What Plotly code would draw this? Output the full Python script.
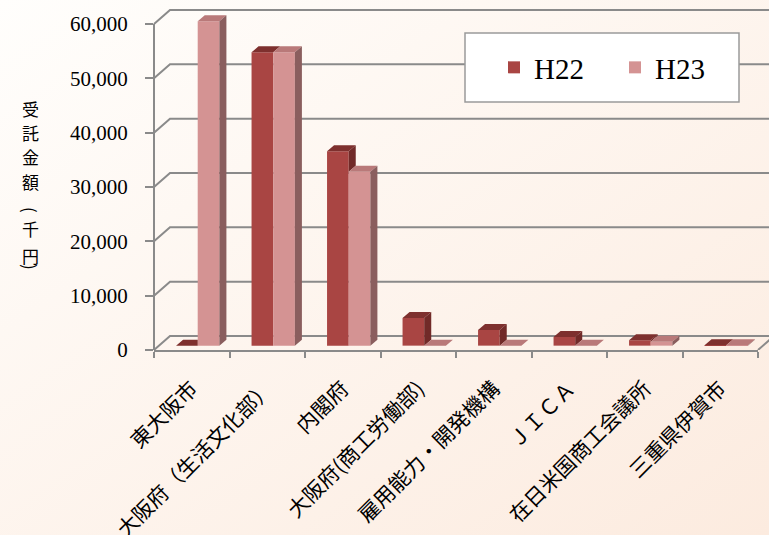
import base64
import plotly.graph_objects as go

# ---------------- data ----------------
categories = ["東大阪市", "大阪府（生活文化部）", "内閣府", "大阪府(商工労働部)",
              "雇用能力・開発機構", "ＪＩＣＡ", "在日米国商工会議所", "三重県伊賀市"]
h22 = [0, 54000, 35800, 5100, 2900, 1600, 1000, 80]
h23 = [59700, 54000, 32000, 0, 0, 0, 700, 80]
y_ticks = [0, 10000, 20000, 30000, 40000, 50000, 60000]
y_title_chars = ["受", "託", "金", "額", "(", "千", "円", ")"]

# ---------------- style / geometry ----------------
W, H = 769, 535
ML, MR, MT, MB = 154, 11, 5, 185
PW, PH = W - ML - MR, H - MT - MB
YMAX = 63500

BAR_W = 0.287        # category units
SHIFT_X = 0.079      # bar plane shift right (category units)
LIFT = 800           # bar plane lift (value units)
DX = 0.093           # bar depth in x (category units)
DY = 1100            # bar depth in y (value units)
WALL_DX, WALL_DY = 16, 14   # pixel offset of back wall

C22, C22_TOP, C22_SIDE = "#A94543", "#7E302E", "#712A28"
C23, C23_TOP, C23_SIDE = "#D49393", "#B97979", "#8A5E5E"
GRID = "#8A8A8A"

SERIF = "Liberation Serif, Noto Sans CJK JP"
CJK = "Noto Sans CJK JP"

# y pixel centres / rotation of the stacked title characters
TITLE_Y = [108, 132, 156, 181, 210, 229, 255, 267]
TITLE_ROT = [0, 0, 0, 0, 90, 0, 0, 90]


def px_x(px):
    return (px - ML) / PW


def px_y(py):
    return (H - MB - py) / PH


fig = go.Figure()

n = len(categories)
idx = list(range(n))

# front faces (bars)
fig.add_trace(go.Bar(x=[i + SHIFT_X - BAR_W / 2 for i in idx], y=h22, base=LIFT, width=BAR_W,
                     name="H22", marker=dict(color=C22, line=dict(width=0))))
fig.add_trace(go.Bar(x=[i + SHIFT_X + BAR_W / 2 for i in idx], y=h23, base=LIFT, width=BAR_W,
                     name="H23", marker=dict(color=C23, line=dict(width=0))))


def poly_trace(xs, ys, color):
    return go.Scatter(x=xs, y=ys, fill="toself", fillcolor=color, mode="lines",
                      line=dict(width=0, color=color), hoverinfo="skip", showlegend=False)


top22_x, top22_y, side22_x, side22_y = [], [], [], []
top23_x, top23_y, side23_x, side23_y = [], [], [], []
for i in idx:
    v22, v23 = h22[i], h23[i]
    # H22
    xl = i + SHIFT_X - BAR_W
    xr = xl + BAR_W
    t = LIFT + v22
    if v23 > v22:
        top22_x += [xl, xr, xr, xl + DX, xl, None]
        top22_y += [t, t, t + DY, t + DY, t, None]
    else:
        top22_x += [xl, xr, xr + DX, xl + DX, xl, None]
        top22_y += [t, t, t + DY, t + DY, t, None]
    if v22 > v23:
        b = LIFT + v23
        side22_x += [xr, xr, xr + DX, xr + DX, xr, None]
        side22_y += [b, t, t + DY, b + DY, b, None]
    # H23
    xl = i + SHIFT_X
    xr = xl + BAR_W
    t = LIFT + v23
    top23_x += [xl, xr, xr + DX, xl + DX, xl, None]
    top23_y += [t, t, t + DY, t + DY, t, None]
    side23_x += [xr, xr, xr + DX, xr + DX, xr, None]
    side23_y += [LIFT, t, t + DY, LIFT + DY, LIFT, None]

fig.add_trace(poly_trace(top22_x, top22_y, C22_TOP))
fig.add_trace(poly_trace(side22_x, side22_y, C22_SIDE))
fig.add_trace(poly_trace(top23_x, top23_y, C23_TOP))
fig.add_trace(poly_trace(side23_x, side23_y, C23_SIDE))

# 3D walls: gridlines on left wall + back wall
shapes = []
for v in y_ticks:
    shapes.append(dict(type="path", xref="paper", yref="y", xsizemode="pixel", ysizemode="pixel",
                       xanchor=0, yanchor=v,
                       path=f"M0,0 L{WALL_DX},{WALL_DY} L{PW + WALL_DX + 20},{WALL_DY}",
                       line=dict(color=GRID, width=2), layer="below"))
shapes.append(dict(type="path", xref="paper", yref="y", xsizemode="pixel", ysizemode="pixel",
                   xanchor=1, yanchor=0, path=f"M0,0 L{WALL_DX},{WALL_DY}",
                   line=dict(color=GRID, width=2), layer="below"))
shapes.append(dict(type="line", xref="paper", yref="y", x0=0, x1=0, y0=0, y1=max(y_ticks),
                   line=dict(color=GRID, width=2), layer="below"))
# legend box
shapes.append(dict(type="rect", xref="paper", yref="paper",
                   x0=px_x(465), x1=px_x(739), y0=px_y(102), y1=px_y(33),
                   fillcolor="white", line=dict(color="#9A9A9A", width=1.5), layer="above"))

# background gradient
svg = (f'<svg xmlns="http://www.w3.org/2000/svg" width="{W}" height="{H}">'
       '<defs><linearGradient id="g" x1="0" y1="0" x2="1" y2="1">'
       '<stop offset="0" stop-color="#FFFEFC"/><stop offset="1" stop-color="#FCEBDF"/>'
       '</linearGradient></defs>'
       f'<rect width="{W}" height="{H}" fill="url(#g)"/></svg>')
src = "data:image/svg+xml;base64," + base64.b64encode(svg.encode()).decode()

annotations = [dict(text=ch, xref="paper", yref="paper", x=px_x(31), y=px_y(yy),
                    xanchor="center", yanchor="middle", showarrow=False, textangle=rot,
                    font=dict(family=CJK, size=17, color="black"))
               for ch, yy, rot in zip(y_title_chars, TITLE_Y, TITLE_ROT)]

fig.update_layout(
    width=W, height=H,
    margin=dict(l=ML, r=MR, t=MT, b=MB, autoexpand=False),
    paper_bgcolor="#FDF5EE", plot_bgcolor="rgba(0,0,0,0)",
    font=dict(family=SERIF, color="black"),
    barmode="overlay",
    showlegend=True,
    legend=dict(orientation="h", x=px_x(615), y=px_y(67.5), xanchor="center", yanchor="middle",
                bgcolor="rgba(0,0,0,0)", font=dict(family=SERIF, size=29), entrywidth=76,
                itemclick=False),
    images=[dict(source=src, xref="paper", yref="paper", x=-ML / PW, y=1 + MT / PH,
                 sizex=W / PW, sizey=H / PH, sizing="stretch", xanchor="left", yanchor="top",
                 layer="below")],
    shapes=shapes,
    xaxis=dict(range=[-0.5, n - 0.5], tickmode="array", tickvals=idx, ticktext=categories,
               tickangle=-45, ticks="", showgrid=False, zeroline=False,
               showline=True, linecolor=GRID, linewidth=2,
               tickfont=dict(family=CJK, size=21, color="black"), ticklabelstandoff=16,
               minor=dict(tickmode="array", tickvals=[i - 0.5 for i in range(n + 1)],
                          ticks="outside", ticklen=6, tickcolor=GRID, tickwidth=2, showgrid=False),
               automargin=False, fixedrange=True),
    yaxis=dict(range=[0, YMAX], tickmode="array", tickvals=y_ticks,
               ticktext=[f"{v:,}" for v in y_ticks],
               ticks="outside", ticklen=8, tickcolor=GRID, tickwidth=2,
               showgrid=False, zeroline=False, showline=False,
               tickfont=dict(family=SERIF, size=21, color="black"), ticklabelstandoff=13,
               automargin=False, fixedrange=True),
    annotations=annotations,
)

fig.write_html("out.html")
